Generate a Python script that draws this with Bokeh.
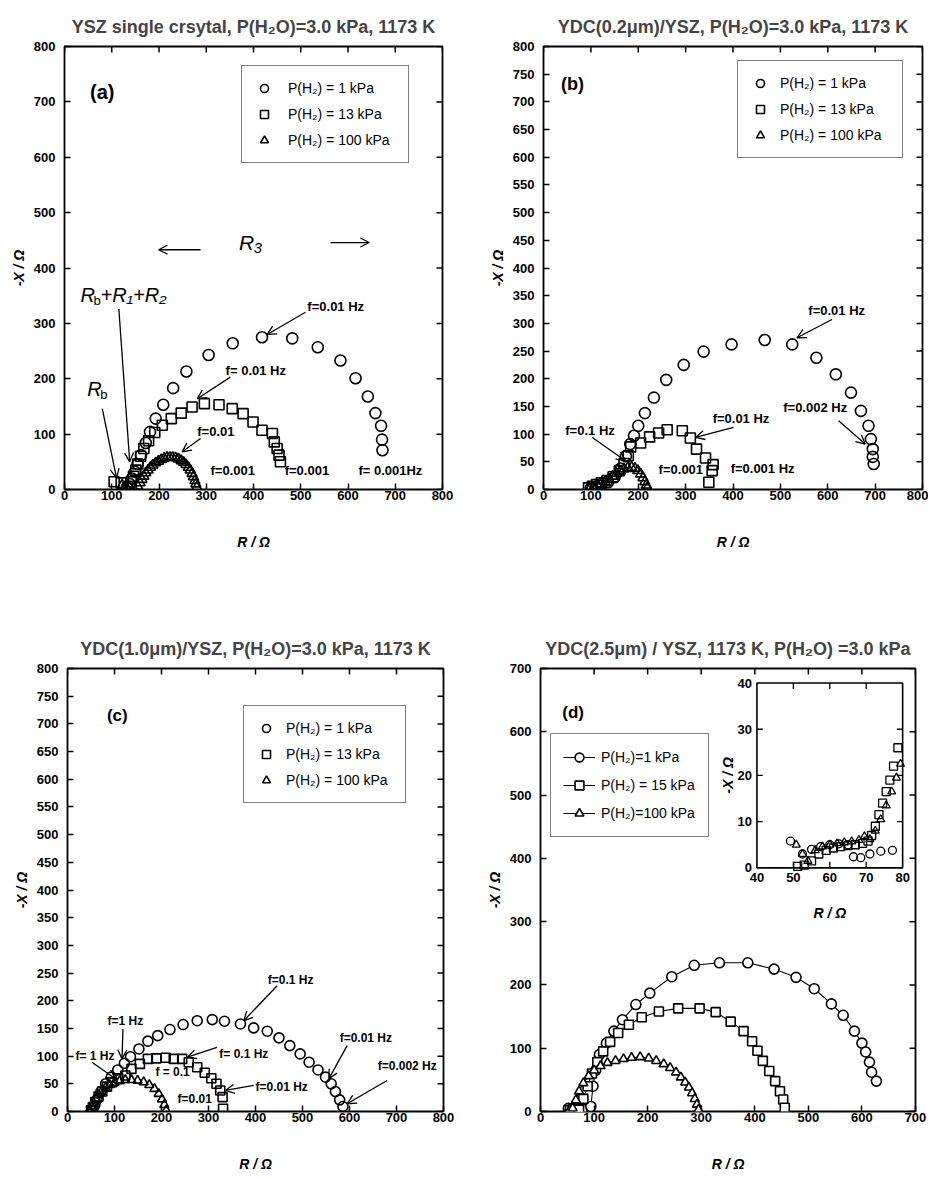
import math
from bokeh.plotting import figure
from bokeh.models import Range1d, FixedTicker, Legend, LegendItem, Arrow, OpenHead
from bokeh.layouts import row, column
from bokeh.embed import file_html
from bokeh.resources import INLINE
from bokeh.core.properties import value

FONT = "Liberation Sans"

# ---------------- titles / labels ----------------
title_a = "YSZ single crsytal, P(H\u2082O)=3.0 kPa, 1173 K"
title_b = "YDC(0.2\u03bcm)/YSZ, P(H\u2082O)=3.0 kPa, 1173 K"
title_c = "YDC(1.0\u03bcm)/YSZ, P(H\u2082O)=3.0 kPa, 1173 K"
title_d = "YDC(2.5\u03bcm) / YSZ, 1173 K, P(H\u2082O) =3.0 kPa"
legend_abc = ["P(H\u2082) = 1 kPa", "P(H\u2082) = 13 kPa", "P(H\u2082) = 100 kPa"]
legend_d = ["P(H\u2082)=1 kPa", "P(H\u2082) = 15 kPa", "P(H\u2082)=100 kPa"]
xlab = "R / \u03a9"
ylab = "-X / \u03a9"

# ---------------- ticks ----------------
ticks_800_100 = [0, 100, 200, 300, 400, 500, 600, 700, 800]
ticks_800_50 = [0, 50, 100, 150, 200, 250, 300, 350, 400, 450, 500, 550, 600, 650, 700, 750, 800]
ticks_700_100 = [0, 100, 200, 300, 400, 500, 600, 700]
inset_xticks = [40, 50, 60, 70, 80]
inset_yticks = [0, 10, 20, 30, 40]

# ---------------- panel (a) data ----------------
a1_R = [132, 138, 143, 149, 155, 162, 172, 181, 193, 209, 230, 258, 305, 356, 418, 482, 536, 584, 616, 642, 658, 670, 672, 673]
a1_X = [4, 10, 20, 32, 46, 62, 84, 104, 128, 153, 183, 213, 243, 264, 275, 273, 257, 233, 201, 168, 138, 115, 90, 71]
a13_R = [105, 120, 134, 141, 146, 151, 155, 161, 168, 178, 191, 207, 226, 247, 270, 296, 327, 355, 378, 399, 418, 440, 444, 450, 454, 457]
a13_X = [14, 12, 5, 14, 24, 35, 46, 60, 74, 88, 103, 116, 128, 138, 149, 155, 153, 146, 137, 122, 107, 101, 86, 74, 62, 50]
a100_R = [122, 130, 138, 146, 155, 160, 164, 168, 172, 177, 182, 187, 193, 199, 205, 211, 217, 223, 229, 235, 241, 247, 252, 257, 262, 266, 270, 273, 276, 278, 280]
a100_X = [8, 5, 3, 2, 6, 12, 18, 24, 30, 35, 40, 44, 48, 51, 54, 56, 58, 58, 58, 57, 55, 52, 49, 45, 40, 35, 29, 23, 16, 10, 4]

# ---------------- panel (b) data ----------------
b1_R = [100, 110, 122, 136, 150, 163, 174, 183, 191, 200, 214, 233, 259, 296, 338, 397, 467, 525, 576, 617, 649, 670, 686, 691, 695, 695, 697]
b1_X = [3, 5, 8, 13, 22, 38, 60, 82, 97, 115, 138, 166, 198, 225, 249, 262, 270, 262, 238, 208, 175, 142, 115, 91, 73, 59, 46]
b13_R = [95, 103, 112, 122, 134, 147, 160, 170, 179, 184, 205, 224, 243, 261, 293, 310, 323, 342, 358, 356, 349]
b13_X = [3, 6, 9, 12, 16, 23, 34, 47, 61, 77, 84, 95, 102, 108, 106, 93, 73, 57, 45, 34, 13]
b100_R = [98, 106, 114, 122, 130, 138, 146, 154, 162, 170, 178, 186, 193, 199, 205, 210, 214, 217, 219]
b100_X = [2, 4, 7, 10, 14, 19, 24, 29, 33, 37, 39, 40, 38, 34, 28, 21, 14, 8, 3]

# ---------------- panel (c) data ----------------
c1_R = [52, 57, 63, 71, 81, 93, 107, 121, 134, 152, 171, 192, 218, 246, 276, 308, 334, 368, 396, 425, 450, 473, 495, 514, 533, 549, 561, 570, 579, 586]
c1_X = [2, 10, 22, 36, 50, 62, 75, 87, 99, 113, 127, 137, 148, 157, 164, 166, 163, 158, 151, 145, 133, 119, 104, 89, 75, 62, 50, 36, 21, 9]
c13_R = [50, 54, 59, 66, 74, 84, 95, 108, 123, 136, 154, 171, 189, 209, 226, 244, 258, 276, 292, 306, 317, 325, 330, 331]
c13_X = [2, 8, 17, 27, 36, 45, 53, 60, 65, 77, 86, 95, 96, 97, 95, 95, 89, 80, 70, 60, 50, 38, 26, 5]
c100_R = [47, 51, 55, 60, 66, 73, 81, 90, 100, 111, 123, 136, 149, 162, 174, 185, 194, 201, 206, 210]
c100_X = [2, 9, 16, 23, 30, 37, 43, 48, 52, 55, 57, 57, 56, 53, 48, 41, 32, 22, 12, 2]

# ---------------- panel (d) data ----------------
d1_R = [52, 56, 62, 70, 78, 94, 98, 103, 110, 123, 137, 153, 178, 204, 245, 287, 334, 387, 436, 477, 511, 543, 565, 586, 600, 607, 614, 618, 627]
d1_X = [5, 3, 5, 4, 4, 8, 40, 65, 90, 108, 127, 145, 169, 187, 213, 231, 235, 235, 225, 212, 194, 170, 152, 127, 108, 94, 78, 62, 48]
d15_R = [55, 60, 66, 72, 80, 88, 96, 106, 117, 130, 145, 165, 189, 221, 257, 297, 327, 355, 379, 395, 405, 415, 427, 438, 447, 453, 456]
d15_X = [2, 3, 4, 3, 20, 40, 60, 78, 95, 110, 124, 137, 149, 158, 163, 163, 157, 142, 127, 111, 96, 80, 64, 48, 32, 19, 6]
d100_R = [55, 60, 66, 72, 80, 90, 100, 112, 125, 140, 155, 170, 186, 202, 216, 230, 242, 253, 262, 270, 277, 283, 288, 292, 295]
d100_X = [3, 5, 18, 32, 45, 56, 65, 72, 77, 80, 83, 85, 86, 84, 80, 75, 69, 62, 54, 46, 38, 29, 20, 11, 3]

# inset of (d)
i1_R = [49.2, 52.5, 55, 57.5, 60, 62.5, 65, 66.5, 68.5, 71, 74, 77.2]
i1_X = [5.8, 3.0, 4.0, 4.6, 5.0, 5.2, 5.0, 2.4, 2.2, 3.0, 3.6, 3.8]
i15_R = [51.2, 53, 55, 57, 59, 61, 63, 65, 67, 69, 70.5, 71.5, 72.5, 73.5, 74.5, 75.5, 76.5, 77.5, 78.7]
i15_X = [0.3, 0.6, 1.5, 3.0, 3.8, 4.3, 4.6, 4.8, 5.0, 5.3, 5.8, 7.0, 9.0, 11.5, 14.0, 16.5, 19.0, 22.0, 26.0]
i100_R = [50.8, 52.5, 54, 56, 58, 60, 62, 64, 66, 68, 69.5, 71, 72.5, 74, 75.5, 77, 78.3, 79.4]
i100_X = [5.0, 3.0, 1.5, 3.8, 4.6, 5.0, 5.3, 5.5, 5.7, 6.0, 6.8, 6.2, 8.0, 10.5, 13.5, 16.5, 19.5, 22.5]

# ---------------- annotations ----------------
ann_a_text = ["f=0.01 Hz", "f= 0.01 Hz", "f=0.01", "f=0.001", "f=0.001", "f= 0.001Hz"]
ann_a_x = [514, 341, 281, 309, 466, 622]
ann_a_y = [331, 214, 104, 34, 34, 34]
arr_a = [(510, 320, 429, 280), (351, 203, 281, 164), (288, 92, 249, 68),
         (115, 326, 138, 50), (80, 146, 110, 21), (288, 433, 199, 433), (563, 446, 645, 446)]

ann_b_text = ["f=0.01 Hz", "f=0.002 Hz", "f=0.01 Hz", "f=0.1 Hz", "f=0.001", "f=0.001 Hz"]
ann_b_x = [559, 506, 357, 46, 243, 395]
ann_b_y = [323, 148, 128, 106, 36, 38]
arr_b = [(609, 307, 535, 274), (623, 124, 679, 82), (401, 112, 321, 94), (103, 94, 173, 52)]

ann_c_text = ["f=0.1 Hz", "f=1 Hz", "f= 1 Hz", "f= 0.1 Hz", "f = 0.1", "f=0.01", "f=0.01 Hz", "f=0.01 Hz", "f=0.002 Hz"]
ann_c_x = [426, 85, 17, 323, 187, 234, 400, 579, 660]
ann_c_y = [238, 164, 101, 103, 71, 23, 44, 132, 83]
arr_c = [(446, 227, 375, 164), (118, 149, 116, 95), (52, 89, 102, 59), (318, 116, 255, 98),
         (396, 47, 336, 38), (595, 119, 556, 59), (680, 56, 595, 14)]


def style_axis(ax):
    ax.axis_line_color = None
    ax.major_tick_in = 6
    ax.major_tick_out = 0
    ax.major_tick_line_color = "black"
    ax.major_tick_line_width = 1.5
    ax.minor_tick_line_color = None
    ax.major_label_text_font = FONT
    ax.major_label_text_font_style = "bold"
    ax.major_label_text_color = "black"
    ax.major_label_text_font_size = "13px"
    ax.axis_label_text_font = FONT
    ax.axis_label_text_font_size = "14px"
    ax.axis_label_text_font_style = "bold italic"
    ax.axis_label_text_color = "black"


def make_panel(title, xmax, ymax, xticks, yticks, width, height, bl, br, bt, bb):
    p = figure(width=width, height=height, x_range=Range1d(0, xmax), y_range=Range1d(0, ymax),
               output_backend="svg", toolbar_location=None,
               min_border_left=bl, min_border_right=br, min_border_top=bt, min_border_bottom=bb)
    p.title.text = title
    p.title.align = "center"
    p.title.text_font = FONT
    p.title.text_font_size = "18px"
    p.title.text_font_style = "bold"
    p.title.standoff = 19
    p.grid.visible = False
    p.outline_line_color = "black"
    p.outline_line_width = 1.8
    p.background_fill_color = "white"
    p.border_fill_color = "white"
    xa = p.xaxis[0]
    ya = p.yaxis[0]
    xa.ticker = FixedTicker(ticks=xticks)
    ya.ticker = FixedTicker(ticks=yticks)
    style_axis(xa)
    style_axis(ya)
    xa.major_label_standoff = 1
    ya.major_label_standoff = 9
    xa.axis_label = xlab
    ya.axis_label = ylab
    xa.axis_label_standoff = 31
    ya.axis_label_standoff = 4
    # inward ticks on the top and right edges (half of each dash is clipped by the frame)
    p.scatter(x=xticks, y=[ymax] * len(xticks), marker="dash", angle=math.pi / 2, size=12,
              line_color="black", line_width=1.5)
    p.scatter(x=[xmax] * len(yticks), y=yticks, marker="dash", size=12,
              line_color="black", line_width=1.5)
    return p


def annotate(p, xs, ys, texts, size="13px", style="bold"):
    p.text(x=xs, y=ys, text=texts, text_font=value(FONT), text_font_size=size,
           text_font_style=style, text_baseline="middle", text_align="left", text_color="black")


def add_arrows(p, arrs):
    for x0, y0, x1, y1 in arrs:
        p.add_layout(Arrow(end=OpenHead(size=9, line_width=1.3, line_color="black"),
                           x_start=x0, y_start=y0, x_end=x1, y_end=y1,
                           line_width=1.3, line_color="black"))


def add_legend(p, renderers, labels, loc, glyph_w, label_w, pad, h, sp, standoff):
    items = [LegendItem(label=l, renderers=r) for l, r in zip(labels, renderers)]
    leg = Legend(items=items, location=loc, margin=0, padding=pad, spacing=sp,
                 glyph_width=glyph_w, glyph_height=h, label_height=h, label_width=label_w,
                 label_standoff=standoff, label_text_font=FONT, label_text_font_size="14px",
                 label_text_color="black", border_line_color="black", border_line_width=1.6,
                 background_fill_color="white", background_fill_alpha=1.0)
    p.add_layout(leg)


def scatter3(p, R1, X1, R2, X2, R3, X3, sc, ss, st, fill=None):
    kw = dict(line_color="black", line_width=1.6, fill_color=fill)
    r1 = p.scatter(R1, X1, marker="circle", size=sc, **kw)
    r2 = p.scatter(R2, X2, marker="square", size=ss, **kw)
    r3 = p.scatter(R3, X3, marker="triangle", size=st, **kw)
    return r1, r2, r3


def label(p, x, y, txt, size, style="bold", align="center", dx=0, dy=0):
    p.text(x=[x], y=[y], text=[txt], x_offset=dx, y_offset=dy, text_font=value(FONT),
           text_font_size=size, text_font_style=style, text_align=align, text_baseline="middle",
           text_color="black")


# ---------------- panel (a) ----------------
pa = make_panel(title_a, 800, 800, ticks_800_100, ticks_800_100, 483, 620, 64, 41, 46, 129)
ra = scatter3(pa, a1_R, a1_X, a13_R, a13_X, a100_R, a100_X, 11, 10, 10)
add_legend(pa, [[r] for r in ra], legend_abc, (177, 326), 20, 108, 12, 20, 6, 14)
annotate(pa, ann_a_x, ann_a_y, ann_a_text)
add_arrows(pa, arr_a)
label(pa, 80, 718, "(a)", "20px")
label(pa, 394, 446, "R\u2083", "21px", style="italic")
label(pa, 48, 182, "R", "20px", style="italic", align="left")
label(pa, 48, 182, "b", "13px", style="normal", align="left", dx=13, dy=6)
label(pa, 34, 352, "R", "20px", style="italic", align="left")
label(pa, 34, 352, "b", "13px", style="normal", align="left", dx=13, dy=6)
label(pa, 34, 352, "+R\u2081+R\u2082", "20px", style="italic", align="left", dx=20)

# ---------------- panel (b) ----------------
pb = make_panel(title_b, 800, 800, ticks_800_100, ticks_800_50, 445, 620, 60, 6, 45, 131)
rb = scatter3(pb, b1_R, b1_X, b13_R, b13_X, b100_R, b100_X, 11, 10, 10)
add_legend(pb, [[r] for r in rb], legend_abc, (194, 331), 20, 110, 12, 20, 6, 10)
annotate(pb, ann_b_x, ann_b_y, ann_b_text)
add_arrows(pb, arr_b)
label(pb, 61, 733, "(b)", "18px")

# ---------------- panel (c) ----------------
pc = make_panel(title_c, 800, 800, ticks_800_100, ticks_800_50, 483, 557, 67, 40, 48, 66)
rc = scatter3(pc, c1_R, c1_X, c13_R, c13_X, c100_R, c100_X, 10, 9, 9)
add_legend(pc, [[r] for r in rc], legend_abc, (176, 308), 20, 107, 12, 20, 6, 10)
annotate(pc, ann_c_x, ann_c_y, ann_c_text, size="12px")
add_arrows(pc, arr_c)
label(pc, 106, 715, "(c)", "17px")

# ---------------- panel (d) ----------------
pd_ = make_panel(title_d, 700, 700, ticks_700_100, ticks_700_100, 445, 557, 54, 13, 47, 65)
kwl = dict(line_color="black", line_width=1.1)
l1 = pd_.line(d1_R, d1_X, **kwl)
l2 = pd_.line(d15_R, d15_X, **kwl)
l3 = pd_.line(d100_R, d100_X, **kwl)
rd = scatter3(pd_, d1_R, d1_X, d15_R, d15_X, d100_R, d100_X, 10, 9, 9, fill="white")
add_legend(pd_, [[l1, rd[0]], [l2, rd[1]], [l3, rd[2]]], legend_d, (10, 274), 32, 95, 12, 22, 6, 6)
label(pd_, 61, 631, "(d)", "17px")

# inset drawn through a sub-coordinate mapping of panel (d)
sub = pd_.subplot(x_source=Range1d(inset_xticks[0], inset_xticks[-1]),
                  y_source=Range1d(inset_yticks[0], inset_yticks[-1]),
                  x_target=Range1d(404, 676), y_target=Range1d(385, 677))
x0, x1 = inset_xticks[0], inset_xticks[-1]
y0, y1 = inset_yticks[0], inset_yticks[-1]
sub.quad(left=[x0], right=[x1], bottom=[y0], top=[y1], fill_color="white",
         line_color="black", line_width=1.6)
tx = inset_xticks[1:-1]
ty = inset_yticks[1:-1]
sub.segment(x0=tx, y0=[y0] * len(tx), x1=tx, y1=[y0 + 1.3] * len(tx), line_color="black", line_width=1.3)
sub.segment(x0=tx, y0=[y1] * len(tx), x1=tx, y1=[y1 - 1.3] * len(tx), line_color="black", line_width=1.3)
sub.segment(x0=[x0] * len(ty), y0=ty, x1=[x0 + 1.6] * len(ty), y1=ty, line_color="black", line_width=1.3)
sub.segment(x0=[x1] * len(ty), y0=ty, x1=[x1 - 1.6] * len(ty), y1=ty, line_color="black", line_width=1.3)
kwi = dict(line_color="black", line_width=1.3, fill_color=None)
sub.scatter(i1_R, i1_X, marker="circle", size=8, **kwi)
sub.scatter(i15_R, i15_X, marker="square", size=8, **kwi)
sub.scatter(i100_R, i100_X, marker="triangle", size=8, **kwi)
sub.text(x=[x0] * len(inset_yticks), y=inset_yticks, text=[str(v) for v in inset_yticks],
         x_offset=-5, text_align="right", text_baseline="middle", text_font=value(FONT),
         text_font_size="13px", text_font_style="bold")
sub.text(x=inset_xticks, y=[y0] * len(inset_xticks), text=[str(v) for v in inset_xticks],
         y_offset=5, text_align="center", text_baseline="top", text_font=value(FONT),
         text_font_size="13px", text_font_style="bold")
sub.text(x=[x0], y=[(y0 + y1) / 2], text=[ylab], angle=math.pi / 2, x_offset=-29,
         text_align="center", text_baseline="middle", text_font=value(FONT),
         text_font_size="14px", text_font_style="bold italic")
sub.text(x=[(x0 + x1) / 2], y=[y0], text=[xlab], y_offset=45, text_align="center",
         text_baseline="middle", text_font=value(FONT), text_font_size="14px",
         text_font_style="bold italic")

layout = column(row(pa, pb), row(pc, pd_))
open("out.html", "w").write(file_html(layout, INLINE))
